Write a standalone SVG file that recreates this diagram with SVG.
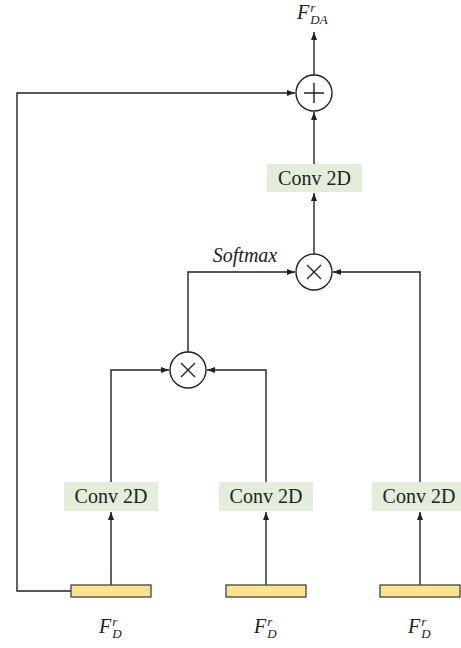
<svg xmlns="http://www.w3.org/2000/svg" width="461" height="648" viewBox="0 0 461 648">
<style>
.ln{fill:none;stroke:#222;stroke-width:1.4}
.op{fill:#fff;stroke:#222;stroke-width:1.4}
.box{fill:#e2eed9}
.bar{fill:#fde38e;stroke:#444;stroke-width:1.3}
.t{font-family:"Liberation Serif",serif;font-size:20px;fill:#222}
.it{font-family:"Liberation Serif",serif;font-style:italic;fill:#222}
.s{font-size:13px}
</style>
<defs>
<marker id="ah" markerWidth="8" markerHeight="8" viewBox="0 0 8 8" refX="8" refY="4" orient="auto" markerUnits="userSpaceOnUse">
<path d="M0,1 L8,4 L0,7 Z" fill="#222"/>
</marker>
</defs>
<rect width="461" height="648" fill="#fff"/>
<g id="connectors">
<path class="ln" d="M314,75 V32" marker-end="url(#ah)"/>
<path class="ln" d="M71,591 H17 V93 H295" marker-end="url(#ah)"/>
<path class="ln" d="M314,164 V112" marker-end="url(#ah)"/>
<path class="ln" d="M314,254 V193" marker-end="url(#ah)"/>
<path class="ln" d="M188,352 V272 H295" marker-end="url(#ah)"/>
<path class="ln" d="M420,482 V272 H333" marker-end="url(#ah)"/>
<path class="ln" d="M111,482 V370 H169" marker-end="url(#ah)"/>
<path class="ln" d="M266,482 V370 H207" marker-end="url(#ah)"/>
<path class="ln" d="M111,585 V512" marker-end="url(#ah)"/>
<path class="ln" d="M266,585 V512" marker-end="url(#ah)"/>
<path class="ln" d="M420,585 V512" marker-end="url(#ah)"/>
</g>
<g id="out_label">
<text class="it" x="297" y="19" font-size="20">F<tspan class="s" dx="1" dy="-7">r</tspan><tspan class="s" dx="-5" dy="12">DA</tspan></text>
</g>
<g id="add">
<circle class="op" cx="314" cy="93" r="18"/>
<path class="ln" d="M304,93 H324 M314,83 V103"/>
</g>
<g id="conv_top">
<rect class="box" x="267" y="164" width="95" height="28"/>
<text class="t" x="314.5" y="185" text-anchor="middle">Conv 2D</text>
</g>
<g id="mul_top">
<circle class="op" cx="314" cy="272" r="18"/>
<path class="ln" d="M307,265 L321,279 M321,265 L307,279"/>
</g>
<g id="softmax">
<text class="it" x="245" y="262" font-size="20" text-anchor="middle">Softmax</text>
</g>
<g id="mul_low">
<circle class="op" cx="188" cy="370" r="18"/>
<path class="ln" d="M181,363 L195,377 M195,363 L181,377"/>
</g>
<g id="conv1">
<rect class="box" x="64" y="482" width="94" height="29"/>
<text class="t" x="111" y="503" text-anchor="middle">Conv 2D</text>
</g>
<g id="conv2">
<rect class="box" x="219" y="482" width="94" height="29"/>
<text class="t" x="266" y="503" text-anchor="middle">Conv 2D</text>
</g>
<g id="conv3">
<rect class="box" x="372" y="482" width="94" height="29"/>
<text class="t" x="419" y="503" text-anchor="middle">Conv 2D</text>
</g>
<g id="in1">
<rect class="bar" x="71" y="585" width="80" height="12"/>
<text class="it" x="99" y="633" font-size="20">F<tspan class="s" dx="1" dy="-7">r</tspan><tspan class="s" dx="-5" dy="12">D</tspan></text>
</g>
<g id="in2">
<rect class="bar" x="226" y="585" width="80" height="12"/>
<text class="it" x="254" y="633" font-size="20">F<tspan class="s" dx="1" dy="-7">r</tspan><tspan class="s" dx="-5" dy="12">D</tspan></text>
</g>
<g id="in3">
<rect class="bar" x="380" y="585" width="80" height="12"/>
<text class="it" x="408" y="633" font-size="20">F<tspan class="s" dx="1" dy="-7">r</tspan><tspan class="s" dx="-5" dy="12">D</tspan></text>
</g>
</svg>
